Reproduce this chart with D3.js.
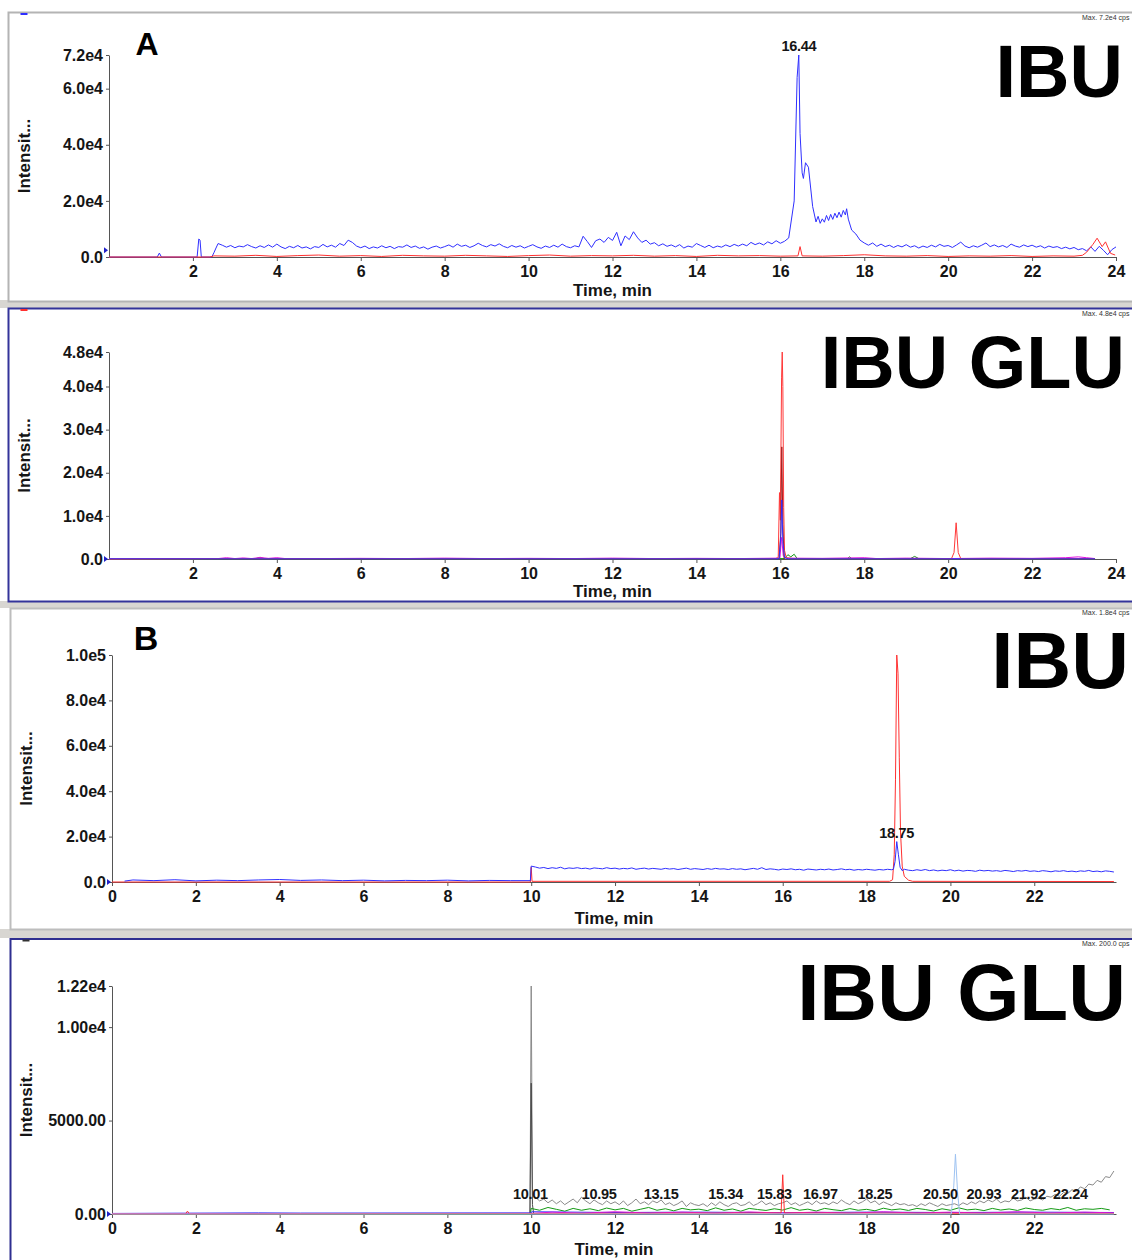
<!DOCTYPE html>
<html>
<head>
<meta charset="utf-8">
<title>IBU / IBU GLU chromatograms</title>
<script src="https://cdn.jsdelivr.net/npm/d3@7"></script>
<style>
body { margin: 0; background: #fff; }
text { font-family: "Liberation Sans", Arial, sans-serif; }
</style>
</head>
<body>
<script>
// intensity values are in thousands of cps, time in min

// ---- tick values and labels ----
var xTicksTop = [2, 4, 6, 8, 10, 12, 14, 16, 18, 20, 22, 24];
var xTicksBottom = [0, 2, 4, 6, 8, 10, 12, 14, 16, 18, 20, 22];
var yTicksA1 = [0, 20, 40, 60, 72];
var yLabelsA1 = ["0.0", "2.0e4", "4.0e4", "6.0e4", "7.2e4"];
var yTicksA2 = [0, 10, 20, 30, 40, 48];
var yLabelsA2 = ["0.0", "1.0e4", "2.0e4", "3.0e4", "4.0e4", "4.8e4"];
var yTicksB1 = [0, 20, 40, 60, 80, 100];
var yLabelsB1 = ["0.0", "2.0e4", "4.0e4", "6.0e4", "8.0e4", "1.0e5"];
var yTicksB2 = [0, 5, 10, 12.2];
var yLabelsB2 = ["0.00", "5000.00", "1.00e4", "1.22e4"];

// ---- A, IBU ----
var blueA1Start = [[0,0],[1.15,0],[1.2,1.4],[1.25,0],[2.1,0],[2.14,6.4],[2.17,6.0],[2.2,0],[2.45,0],[2.5,1.5],[2.55,3.2]];
// sampled every 0.1 min from 2.6 to 16.2
var blueA1Noise = [4.8,4.2,3.5,4.1,3.3,3.9,3.6,4.4,3.7,3.2,
  4.0,3.4,4.3,3.5,4.6,3.6,3.0,3.8,3.3,4.1,
  3.2,3.6,2.9,3.7,3.4,4.5,3.6,4.2,3.5,4.8,
  4.1,6.0,5.2,3.9,3.3,3.9,3.0,3.6,3.2,4.0,
  3.3,3.8,3.0,3.7,3.5,4.3,3.4,3.9,3.1,3.6,
  2.8,3.5,3.9,3.2,3.7,4.3,3.5,4.6,3.8,4.2,
  3.4,4.0,4.9,4.1,3.6,4.4,3.9,4.7,3.8,3.3,
  4.1,3.5,4.0,3.2,3.8,4.4,3.6,3.1,3.9,3.4,
  4.2,3.5,4.6,3.7,3.3,4.0,3.6,7.4,5.5,3.4,
  5.8,6.4,5.2,7.0,5.9,8.8,4.0,7.5,6.2,9.0,
  6.8,5.2,6.0,4.6,5.1,4.0,4.7,3.8,4.3,3.6,
  4.4,3.2,3.9,3.5,4.8,4.1,3.4,4.2,3.3,3.9,
  3.5,4.3,3.7,4.5,3.9,4.6,4.0,5.2,4.4,5.0,
  4.3,5.4,4.7,5.8,4.9,5.6,6.8];
var blueA1Peak = [[16.33,20],[16.4,64],[16.44,72],[16.47,44],[16.52,30],[16.55,28],[16.6,33.6],[16.67,32],
  [16.77,18],[16.85,12.5],[16.9,14.5],[16.95,12.0],[17.0,13.6],[17.05,12.4],[17.1,14.8],[17.15,13.0],
  [17.2,15.2],[17.25,13.4],[17.3,15.6],[17.35,14.0],[17.4,16.0],[17.45,14.2],[17.5,16.6],[17.55,15.0],
  [17.58,17.2],[17.62,13.5],[17.7,9.6],[17.8,8.2],[17.9,6.0]];
// sampled every 0.1 min from 18.0 to 24.0
var blueA1Tail = [5.0,4.2,5.0,3.8,4.6,3.7,4.2,3.4,4.1,3.6,
  4.4,3.5,4.0,3.2,3.9,3.4,4.2,3.6,4.5,3.8,
  4.1,3.4,4.3,5.3,3.9,3.3,4.0,3.5,4.2,5.0,
  3.7,4.3,3.6,4.1,3.4,4.6,3.9,3.5,4.3,3.7,
  4.2,3.5,4.0,3.2,3.9,3.4,3.7,3.0,3.5,2.9,
  3.4,2.6,3.0,2.2,3.6,2.0,3.8,2.4,0.8,2.6,
  3.6];
var redA1 = [[0,0],[2.4,0],[2.5,0.4],[3,0.3],[3.5,0.6],[4,0.2],[4.5,0.5],[5,0.7],[5.5,0.3],[6,0.5],[6.5,0.2],
  [7,0.6],[7.5,0.4],[8,0.3],[8.5,0.6],[9,0.4],[9.5,0.2],[10,0.5],[10.5,0.7],[11,0.3],[11.5,0.5],[12,0.4],
  [12.5,0.6],[13,0.3],[13.5,0.5],[14,0.2],[14.5,0.6],[15,0.4],[15.5,0.5],[16,0.3],[16.42,0.4],[16.47,3.7],
  [16.52,0.4],[17,0.3],[17.5,0.5],[18,0.8],[18.5,0.4],[19,0.3],[19.5,0.5],[20,0.2],[20.5,0.4],[21,0.3],
  [21.5,0.5],[22,0.2],[22.5,0.4],[23,0.3],[23.2,0.6],[23.3,1.7],[23.45,4.5],[23.55,6.7],[23.67,3.7],
  [23.75,5.4],[23.87,1.3],[23.98,0.7]];
var peakTextA1 = ["16.44"];
var peakTimeA1 = [16.44];
var peakValA1 = [72];

// ---- A, IBU GLU ----
var greenA2 = [[0,0],[3.5,0.1],[3.6,0.4],[3.7,0.1],[16.1,0.1],[16.18,1.0],[16.25,0.5],[16.33,1.1],[16.4,0.1],
  [17.6,0.1],[17.65,0.5],[17.7,0.1],[19.1,0.1],[19.2,0.6],[19.3,0.1],[23.5,0.1]];
var magentaA2 = [[0,0.05],[2.6,0.1],[2.8,0.3],[3.0,0.1],[3.2,0.25],[3.4,0.1],[3.6,0.35],[3.8,0.15],[4.0,0.3],
  [4.2,0.1],[5,0.1],[6,0.15],[7,0.1],[8,0.2],[9,0.1],[10,0.15],[11,0.1],[12,0.2],[13,0.1],[14,0.15],[15,0.1],
  [15.99,0.2],[16.03,5],[16.07,0.8],[16.12,0.2],[17,0.15],[18,0.3],[18.3,0.1],[19,0.2],[20,0.1],[21,0.2],
  [22,0.15],[22.8,0.3],[23.1,0.5],[23.3,0.3],[23.5,0.1]];
var redA2 = [[0,0],[2.5,0.1],[15.9,0.1],[15.95,0.6],[15.98,15.4],[16.0,9],[16.03,42],[16.045,48],[16.06,40],
  [16.08,12],[16.1,2],[16.14,0.3],[16.3,0.1],[20.08,0.1],[20.14,1.5],[20.19,8.4],[20.24,1.5],[20.3,0.1],[23.5,0.1]];
var darkRedA2 = [[15.97,0],[16.01,6],[16.035,26],[16.06,8],[16.09,0]];
var blueA2 = [[0,0.05],[15.97,0.05],[16.01,5],[16.035,13.7],[16.06,4],[16.1,0.3],[16.2,0.05],[23.5,0.05]];

// ---- B, IBU ----
var redB1 = [[0,0],[9.98,0],[10.0,6.5],[10.02,0.3],[18.55,0.3],[18.62,1],[18.66,12],[18.69,45],[18.72,100],
  [18.75,92],[18.78,55],[18.81,22],[18.85,7],[18.9,2.5],[19.0,0.8],[19.1,0.3],[23.9,0.2]];
var blueB1Start = [[0.3,0.4],[0.5,0.9],[1.0,0.6],[1.5,1.0],[2.0,0.5],[2.5,0.8],[3.0,0.6],[3.5,0.9],[4.0,1.1],
  [4.5,0.7],[5.0,0.9],[5.5,0.6],[6.0,0.8],[6.5,0.5],[7.0,0.7],[7.5,0.6],[8.0,0.8],[8.5,0.5],[9.0,0.7],
  [9.5,0.6],[9.98,0.6],[10.0,7.0]];
// sampled every 0.1 min from 10.1 to 18.6
var blueB1Noise = [6.6,6.1,6.4,5.9,6.3,6.0,6.5,5.8,6.2,6.0,
  6.3,5.9,6.1,5.7,6.2,6.0,5.8,6.3,5.9,6.1,
  5.7,6.0,5.8,6.2,5.6,5.9,6.1,5.7,6.0,5.8,
  5.6,6.0,5.7,5.9,5.5,5.8,6.1,5.6,5.9,5.7,
  5.5,5.9,5.6,6.0,5.7,5.8,5.5,5.9,5.6,5.8,
  5.4,5.7,6.0,5.6,6.3,5.5,5.8,5.6,5.3,5.7,
  5.5,5.8,5.4,5.6,5.2,5.7,5.5,5.3,5.6,5.4,
  5.7,5.3,5.5,5.8,5.4,5.6,5.2,5.5,5.3,5.6,
  5.4,5.2,5.5,5.3,5.6,5.4];
var blueB1Peak = [[18.64,5.6],[18.68,9],[18.72,17.8],[18.76,12],[18.8,6.5],[18.85,5.0]];
// sampled every 0.1 min from 18.9 to 23.9
var blueB1Tail = [5.6,5.2,5.0,5.4,5.1,5.5,5.0,5.3,4.9,5.2,
  5.0,5.4,4.9,5.2,4.8,5.1,5.0,4.7,5.2,4.9,
  5.1,4.8,5.0,4.7,5.1,4.9,4.6,5.0,4.8,5.1,
  4.7,4.9,4.6,5.0,4.8,4.5,4.9,4.7,5.0,4.6,
  4.8,4.5,4.9,4.7,5.1,4.6,4.8,4.5,4.9,4.7,4.4];
var peakTextB1 = ["18.75"];
var peakTimeB1 = [18.72];
var peakValB1 = [17.8];

// ---- B, IBU GLU ----
var grayB2Start = [[0,0],[9.97,0],[10.0,12.2],[10.03,1.0]];
// sampled every 0.1 min from 10.1 to 23.9
var grayB2Noise = [0.9,0.7,0.8,0.6,0.75,0.55,0.7,0.5,0.65,0.8,
  0.6,0.9,0.7,0.55,0.75,0.6,0.5,0.7,0.55,0.65,
  0.5,0.7,0.45,0.6,0.8,0.55,0.65,0.5,0.7,0.6,
  0.75,0.5,0.6,0.45,0.55,0.7,0.4,0.6,0.5,0.45,
  0.55,0.4,0.6,0.45,0.65,0.5,0.4,0.55,0.6,0.45,
  0.5,0.65,0.45,0.55,0.7,0.5,0.6,0.45,0.55,0.6,
  0.7,0.5,0.6,0.45,0.55,0.65,0.5,0.7,0.55,0.6,
  0.5,0.65,0.55,0.75,0.6,0.5,0.7,0.55,0.65,0.8,
  0.6,0.7,0.5,0.65,0.55,0.45,0.6,0.5,0.55,0.45,
  0.5,0.4,0.55,0.45,0.6,0.5,0.4,0.55,0.45,0.5,
  0.55,0.45,0.6,0.5,0.65,0.55,0.7,0.6,0.75,0.65,
  0.8,0.6,0.7,0.65,0.85,0.7,0.75,0.9,0.7,0.8,
  0.85,0.75,0.95,0.9,1.05,0.95,1.15,1.1,1.3,1.2,
  1.45,1.35,1.6,1.55,1.8,1.7,2.0,1.95,2.3];
var darkGrayB2 = [[9.97,0],[10.0,7.0],[10.03,0.5],[10.06,0]];
// sampled every 0.2 min from 10.0 to 23.8
var greenB2Noise = [0.3,0.2,0.35,0.25,0.15,0.3,0.2,0.28,0.18,0.32,
  0.22,0.3,0.15,0.25,0.35,0.2,0.28,0.17,0.3,0.22,
  0.26,0.18,0.33,0.2,0.27,0.15,0.3,0.24,0.19,0.28,
  0.21,0.34,0.2,0.26,0.16,0.3,0.23,0.18,0.29,0.2,
  0.25,0.17,0.31,0.22,0.27,0.19,0.3,0.24,0.16,0.28,
  0.2,0.33,0.22,0.26,0.18,0.3,0.21,0.27,0.19,0.32,
  0.24,0.2,0.29,0.23,0.35,0.2,0.28,0.25,0.3,0.22];
var blueB2 = [[0,0.03],[3.5,0.06],[4.5,0.05],[10,0.06],[10.01,0.12],[12,0.08],[14,0.1],[16,0.07],[18,0.1],
  [20,0.08],[22,0.1],[23.9,0.08]];
var magentaB2 = [[0,0.02],[10,0.03],[10.5,0.1],[11.2,0.04],[12,0.12],[12.8,0.05],[13.6,0.1],[14.4,0.04],
  [15.2,0.11],[16,0.05],[16.8,0.1],[17.6,0.04],[18.4,0.12],[19.2,0.05],[20,0.1],[20.8,0.05],[21.6,0.12],
  [22.4,0.05],[23.2,0.1],[23.9,0.06]];
var redB2 = [[0,0],[1.75,0],[1.8,0.15],[1.85,0],[15.96,0.05],[16.0,2.1],[16.04,0.05],[23.9,0.03]];
var lightBlueB2 = [[0,0],[20.02,0],[20.08,1.5],[20.12,3.2],[20.17,1.2],[20.22,0],[23.9,0]];
var peakTextB2 = ["10.01","10.95","13.15","15.34","15.83","16.97","18.25","20.50","20.93","21.92","22.24"];
var peakTimeB2 = [9.98,11.62,13.1,14.64,15.8,16.9,18.2,19.76,20.8,21.86,22.86];
var peakValB2 = [0.6,0.6,0.6,0.6,0.6,0.6,0.6,0.6,0.6,0.6,0.6];

function sampled(t0, step, vals) {
	return vals.map(function(v, i) { return [t0 + i * step, v]; });
}

var panels = [
	{frame: [8.5, 12.5, 1140, 289], frameColor: "#b4b4b4", dash: "#2f2fff",
	 xr: [109, 1116], xd: [0, 24], yr: [257, 55], yd: [0, 72],
	 xTicks: xTicksTop, yTicks: yTicksA1, yLabels: yLabelsA1,
	 traces: [
		{color: "#2f2fff", data: blueA1Start.concat(sampled(2.6, 0.1, blueA1Noise), blueA1Peak, sampled(18.0, 0.1, blueA1Tail))},
		{color: "#ff3030", data: redA1}
	 ],
	 peaks: [peakTextA1, peakTimeA1, peakValA1],
	 title: "IBU", titleSize: 74, titleX: 1123, titleY: 97,
	 letter: "A", letterSize: 32, letterX: 147, letterY: 55,
	 max: "Max. 7.2e4 cps", maxY: 20, ylabX: 30, timeY: 296, marker: 2.4},
	{frame: [8.5, 308.5, 1140, 293], frameColor: "#33339a", dash: "#ff3030",
	 xr: [109, 1116], xd: [0, 24], yr: [559, 352], yd: [0, 48],
	 xTicks: xTicksTop, yTicks: yTicksA2, yLabels: yLabelsA2,
	 traces: [
		{color: "#159a15", data: greenA2},
		{color: "#e010e0", data: magentaA2},
		{color: "#ff3838", data: redA2},
		{color: "#a81c1c", data: darkRedA2},
		{color: "#2f2fff", data: blueA2}
	 ],
	 peaks: null,
	 title: "IBU GLU", titleSize: 74, titleX: 1125, titleY: 388,
	 letter: null,
	 max: "Max. 4.8e4 cps", maxY: 316, ylabX: 30, timeY: 597, marker: 0},
	{frame: [10.5, 608.5, 1140, 321], frameColor: "#bdbdbd", dash: null,
	 xr: [112, 1116], xd: [0, 23.95], yr: [882, 655], yd: [0, 100],
	 xTicks: xTicksBottom, yTicks: yTicksB1, yLabels: yLabelsB1,
	 traces: [
		{color: "#ff3030", data: redB1},
		{color: "#2f2fff", data: blueB1Start.concat(sampled(10.1, 0.1, blueB1Noise), blueB1Peak, sampled(18.9, 0.1, blueB1Tail))}
	 ],
	 peaks: [peakTextB1, peakTimeB1, peakValB1],
	 title: "IBU", titleSize: 80, titleX: 1129, titleY: 688,
	 letter: "B", letterSize: 34, letterX: 146, letterY: 650,
	 max: "Max. 1.8e4 cps", maxY: 615, ylabX: 32, timeY: 924, marker: 0},
	{frame: [10.5, 939, 1140, 330], frameColor: "#2e2e90", dash: "#333",
	 xr: [112, 1116], xd: [0, 23.95], yr: [1214, 986], yd: [0, 12.2],
	 xTicks: xTicksBottom, yTicks: yTicksB2, yLabels: yLabelsB2,
	 traces: [
		{color: "#8a8a8a", data: grayB2Start.concat(sampled(10.1, 0.1, grayB2Noise))},
		{color: "#4a4a4a", data: darkGrayB2},
		{color: "#159a15", data: [[0,0],[9.98,0]].concat(sampled(10.0, 0.2, greenB2Noise))},
		{color: "#2f2fff", data: blueB2},
		{color: "#e010e0", data: magentaB2},
		{color: "#ff3030", data: redB2},
		{color: "#9ec3f2", data: lightBlueB2}
	 ],
	 peaks: [peakTextB2, peakTimeB2, peakValB2],
	 title: "IBU GLU", titleSize: 80, titleX: 1126, titleY: 1020,
	 letter: null,
	 max: "Max. 200.0 cps", maxY: 946, ylabX: 32, timeY: 1255, marker: 0}
];

var svg = d3.select("body").append("svg")
	.attr("width", 1132)
	.attr("height", 1260);

// grey bands between the panels
var bands = [[300, 308], [601, 608], [929, 938]];
bands.forEach(function(b) {
	svg.append("rect").attr("x", 0).attr("y", b[0]).attr("width", 1132).attr("height", b[1] - b[0])
		.attr("fill", "#d8d6d2");
});

panels.forEach(function(p) {
	var g = svg.append("g");

	g.append("rect")
		.attr("x", p.frame[0]).attr("y", p.frame[1])
		.attr("width", p.frame[2]).attr("height", p.frame[3])
		.attr("fill", "#fff")
		.attr("stroke", p.frameColor)
		.attr("stroke-width", 2);

	if (p.dash)
		g.append("line").attr("x1", p.frame[0] + 12).attr("x2", p.frame[0] + 19)
			.attr("y1", p.frame[1] + 1.5).attr("y2", p.frame[1] + 1.5)
			.attr("stroke", p.dash).attr("stroke-width", 2);

	var x = d3.scaleLinear().domain(p.xd).range(p.xr);
	var y = d3.scaleLinear().domain(p.yd).range(p.yr);

	var line = d3.line()
		.x(function(d) { return x(d[0]); })
		.y(function(d) { return y(d[1]); });

	var xAxis = g.append("g")
		.attr("transform", "translate(0," + p.yr[0] + ")")
		.call(d3.axisBottom(x).tickValues(p.xTicks).tickSize(4).tickPadding(5).tickSizeOuter(0).tickFormat(d3.format("d")));
	var yAxis = g.append("g")
		.attr("transform", "translate(" + p.xr[0] + ",0)")
		.call(d3.axisLeft(y).tickValues(p.yTicks).tickSize(3).tickPadding(3).tickSizeOuter(0)
			.tickFormat(function(d, i) { return p.yLabels[i]; }));

	[xAxis, yAxis].forEach(function(a) {
		a.attr("font-family", null).attr("font-size", null);
		a.select(".domain").attr("stroke", "#555");
		a.selectAll(".tick line").attr("stroke", "#555");
		a.selectAll(".tick text")
			.attr("fill", "#151515")
			.style("font-size", "16px")
			.style("font-weight", "bold");
	});

	p.traces.forEach(function(t) {
		g.append("path")
			.datum(t.data)
			.attr("fill", "none")
			.attr("stroke", t.color)
			.attr("stroke-width", 1)
			.attr("stroke-linejoin", "round")
			.attr("d", line);
	});

	// baseline marker at the origin
	g.append("path")
		.attr("d", "M-4,-3L0,0L-4,3Z")
		.attr("fill", "#2020c8")
		.attr("transform", "translate(" + (p.xr[0] - 1) + "," + y(p.marker) + ")");

	if (p.peaks) {
		g.selectAll(".peak")
			.data(p.peaks[0]).enter()
			.append("text")
			.attr("class", "peak")
			.attr("x", function(d, i) { return x(p.peaks[1][i]); })
			.attr("y", function(d, i) { return y(p.peaks[2][i]) - 4; })
			.attr("text-anchor", "middle")
			.style("font-size", "14.5px")
			.style("font-weight", "bold")
			.style("letter-spacing", "-0.3px")
			.attr("fill", "#151515")
			.text(function(d) { return d; });
	}

	g.append("text")
		.attr("x", (p.xr[0] + p.xr[1]) / 2)
		.attr("y", p.timeY)
		.attr("text-anchor", "middle")
		.style("font-size", "17px")
		.style("font-weight", "bold")
		.attr("fill", "#151515")
		.text("Time, min");

	g.append("text")
		.attr("transform", "translate(" + p.ylabX + "," + (p.yr[0] + p.yr[1]) / 2 + ") rotate(-90)")
		.attr("text-anchor", "middle")
		.style("font-size", "17px")
		.style("font-weight", "bold")
		.attr("fill", "#151515")
		.text("Intensit...");

	g.append("text")
		.attr("x", p.titleX)
		.attr("y", p.titleY)
		.attr("text-anchor", "end")
		.style("font-size", p.titleSize + "px")
		.style("font-weight", "bold")
		.attr("fill", "#000")
		.text(p.title);

	if (p.letter)
		g.append("text")
			.attr("x", p.letterX)
			.attr("y", p.letterY)
			.attr("text-anchor", "middle")
			.style("font-size", p.letterSize + "px")
			.style("font-weight", "bold")
			.attr("fill", "#000")
			.text(p.letter);

	g.append("text")
		.attr("x", 1082)
		.attr("y", p.maxY)
		.style("font-size", "7px")
		.attr("fill", "#333")
		.text(p.max);
});
</script>
</body>
</html>
